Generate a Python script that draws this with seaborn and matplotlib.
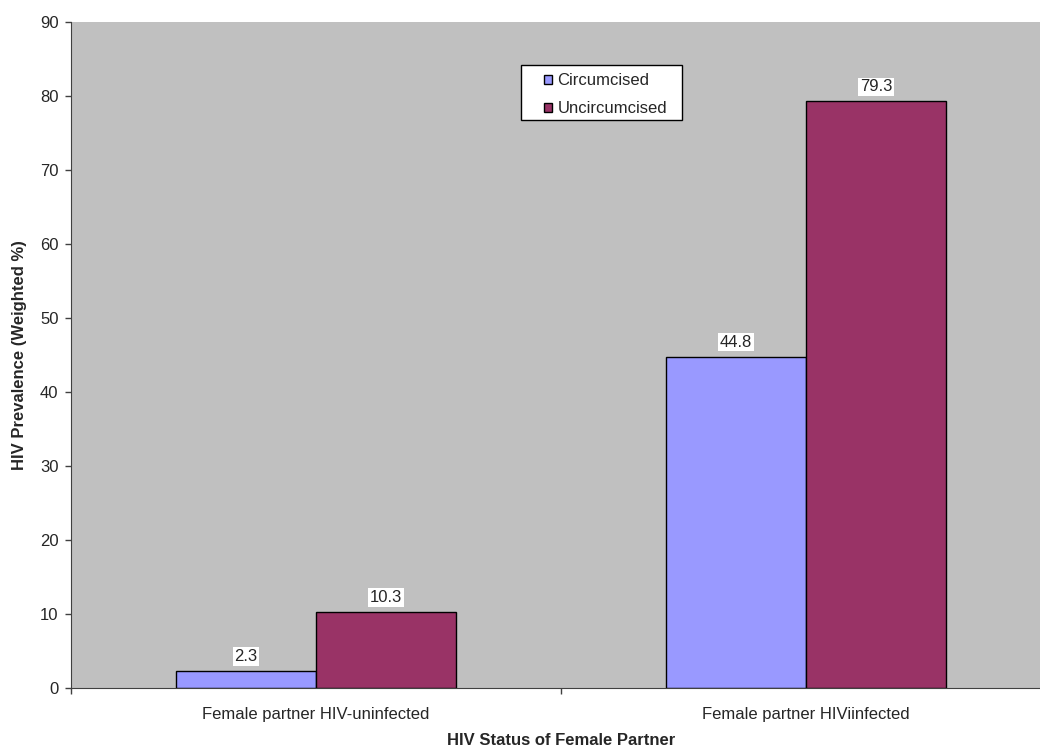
import pandas as pd
import seaborn as sns
import matplotlib.pyplot as plt
from matplotlib.patches import Rectangle
from matplotlib.ticker import FixedLocator

categories = ['Female partner HIV-uninfected', 'Female partner HIViinfected']
circumcised = [2.3, 44.8]
uncircumcised = [10.3, 79.3]
groups = ['Circumcised', 'Uncircumcised']

data = pd.DataFrame({
    'status': categories * 2,
    'group': [groups[0]] * 2 + [groups[1]] * 2,
    'value': circumcised + uncircumcised,
})

sns.set_style('white')
plt.rcParams['font.family'] = ['Liberation Sans', 'DejaVu Sans']
plt.rcParams['font.size'] = 12

W, H = 1040, 749
fig = plt.figure(figsize=(W / 100, H / 100), dpi=100)
# the plot area runs a little past the right edge, as in the original
ax_ = fig.add_axes([0.0683, 0.0814, 0.9423, 0.8892])
ax_.set_facecolor('#C0C0C0')

sns.barplot(
    data=data,
    x='status',
    y='value',
    hue='group',
    palette=['#9999FF', '#993366'],
    width=0.572,
    edgecolor='black',
    linewidth=1,
    saturation=1,
    ax=ax_,
)

for container in ax_.containers:
    ax_.bar_label(
        container,
        labels=[f'{v:.1f}' for v in container.datavalues],
        fontsize=12,
        padding=5,
        bbox=dict(facecolor='white', edgecolor='none', pad=1.2),
    )

ax_.set_xlim(-0.5, 1.5)
ax_.set_ylim(0, 90)
ax_.set_yticks(range(0, 91, 10))
ax_.tick_params(axis='y', direction='out', length=4, width=1, color='#404040',
                left=True, pad=5, labelsize=12)
ax_.tick_params(axis='x', which='major', length=0, pad=14, labelsize=12)
ax_.xaxis.set_minor_locator(FixedLocator([-0.5, 0.5, 1.5]))
ax_.tick_params(axis='x', which='minor', direction='out', length=4, width=1,
                color='#404040', bottom=True)

ax_.set_ylabel('HIV Prevalence (Weighted %)', fontweight='bold', fontsize=12, labelpad=9)
ax_.set_xlabel('')
fig.text(0.54, 0.002, 'HIV Status of Female Partner', fontweight='bold',
         fontsize=12, ha='center', va='bottom')

for side in ['top', 'right']:
    ax_.spines[side].set_visible(False)
ax_.spines['left'].set_color('#404040')
ax_.spines['bottom'].set_color('#404040')

# legend box drawn separately so the padding can follow the original
ax_.add_patch(Rectangle(
    (521 / W, 1 - 120 / H), 161 / W, 55 / H,
    transform=fig.transFigure, facecolor='white', edgecolor='black',
    linewidth=1, zorder=5, clip_on=False,
))

leg = ax_.legend(
    loc='upper left',
    bbox_to_anchor=(544 / W, 1 - 73 / H),
    bbox_transform=fig.transFigure,
    frameon=False,
    fontsize=12,
    handlelength=0.45,
    handleheight=0.45,
    handletextpad=0.35,
    borderpad=0,
    borderaxespad=0,
    labelspacing=0.8,
)
leg.set_zorder(10)

plt.savefig('out.png', dpi=100)
